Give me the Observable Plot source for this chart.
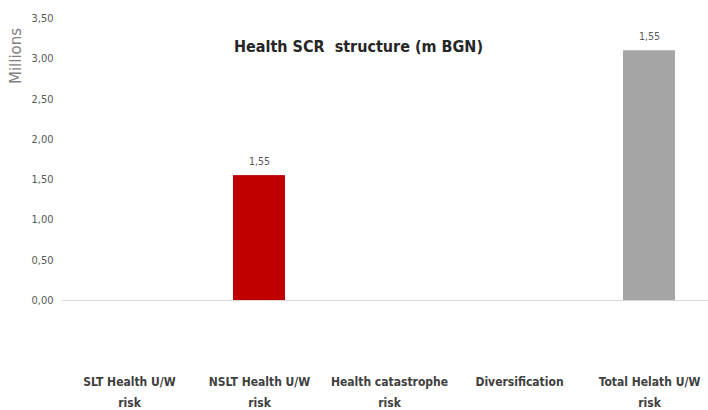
<!DOCTYPE html>
<html>
<head>
<meta charset="utf-8">
<script src="https://cdn.jsdelivr.net/npm/d3@7"></script>
<script src="https://cdn.jsdelivr.net/npm/@observablehq/plot@0.6"></script>
<style>
  html, body { margin: 0; padding: 0; background: #fff; }
  #chart { position: relative; width: 708px; height: 410px; }
</style>
</head>
<body>
<div id="chart"></div>
<script>
const categories = ["SLT Health U/W risk", "NSLT Health U/W risk", "Health catastrophe risk", "Diversification", "Total Helath U/W risk"];
const tickLabels = ["SLT Health U/W\nrisk", "NSLT Health U/W\nrisk", "Health catastrophe\nrisk", "Diversification", "Total Helath U/W\nrisk"];
const values = [0, 1.55, 0, 0, 3.10];
const valueLabels = ["", "1,55", "", "", "1,55"];
const yTicks = [0, 0.5, 1, 1.5, 2, 2.5, 3, 3.5];
const barColors = ["#c00000", "#c00000", "#c00000", "#c00000", "#a5a5a5"];
const title = "Health SCR  structure (m BGN)";
const yLabel = "Millions";

const data = categories.map((c, i) => ({cat: c, value: values[i], label: valueLabels[i]}));
const font = "'DejaVu Sans Condensed', 'DejaVu Sans', sans-serif";

const chart = Plot.plot({
  width: 708,
  height: 410,
  marginTop: 18,
  marginBottom: 110,
  marginLeft: 62,
  marginRight: 0,
  style: {fontFamily: font, background: "#fff"},
  x: {domain: categories, paddingInner: 0.6, paddingOuter: 0.27, align: 0.55, axis: null},
  y: {domain: [0, 3.5], axis: null},
  color: {domain: categories, range: barColors},
  marks: [
    Plot.ruleY([0], {stroke: "#d9d9d9", strokeWidth: 1}),
    Plot.barY(data, {x: "cat", y: "value", fill: "cat"}),
    Plot.text(data, {x: "cat", y: "value", text: "label", dy: -14, fontSize: 10.5, fill: "#595959"}),
    Plot.axisY({ticks: yTicks, tickFormat: d => d.toFixed(2).replace(".", ","), tickSize: 0, tickPadding: 9, fontSize: 11, fill: "#595959", label: null}),
    Plot.axisX({tickSize: 0, tickPadding: 70, fontSize: 12, fontWeight: "bold", fill: "#404040", lineHeight: 1.8, lineWidth: Infinity, label: null,
      tickFormat: d => tickLabels[categories.indexOf(d)]}),
    Plot.text([title], {frameAnchor: "top", dx: -27, dy: 22, fontSize: 16, fontWeight: "bold", fill: "#262626"})
  ]
});
document.getElementById("chart").appendChild(chart);

const lab = document.createElement("div");
lab.textContent = yLabel;
lab.style.cssText = "position:absolute;left:16px;top:56px;transform:translate(-50%,-50%) rotate(-90deg);font:15px 'DejaVu Sans', sans-serif;color:#7f7f7f;white-space:nowrap;";
document.getElementById("chart").appendChild(lab);
</script>
</body>
</html>
